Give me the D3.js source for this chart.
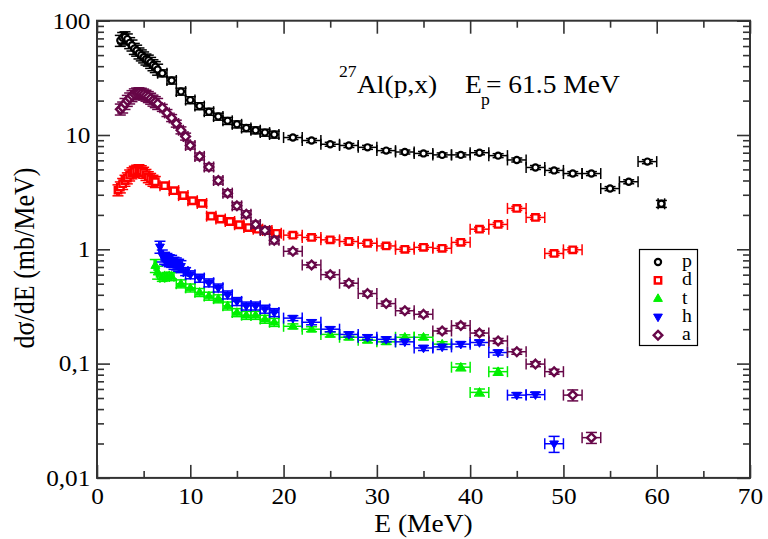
<!DOCTYPE html>
<html>
<head>
<meta charset="utf-8">
<script src="https://cdn.jsdelivr.net/npm/d3@7"></script>
<style>
  body { margin: 0; background: #fff; }
  svg { display: block; }
  text { font-family: "Liberation Serif", "Times New Roman", serif; fill: #000; }
</style>
</head>
<body>
<div id="chart"></div>
<script>
// proton
var pE = [2.5,2.75,3,3.25,3.5,3.75,4,4.25,4.5,4.75,5,5.25,5.5,5.75,6,6.25,6.5,
          7,8,9,10,11,12,13,14,15,16,17,18,19,
          21,23,25,27,29,31,33,35,37,39,41,43,45,47,49,51,53,55,57,59,60.5];
var pV = [67,71,72,69,64,61,57,55,52,50,48,46,45,43,41,39.5,37.5,
          34.7,30,24,20.2,17.9,16,14.5,13.3,12.4,11.5,11,10.5,10.1,
          9.5,8.95,8.3,8.1,7.8,7.3,7.1,6.9,6.7,6.7,7.0,6.6,6.05,5.2,4.9,4.6,4.6,3.4,3.9,5.85,2.5];
// deuteron
var dE = [2.25,2.5,2.75,3,3.25,3.5,3.75,4,4.25,4.5,4.75,5,5.25,5.5,5.75,6,6.25,
          7.25,8.25,9.25,10.25,11.25,12.25,13.25,14.25,15.25,16.25,17.25,18.25,19.25,
          21,23,25,27,29,31,33,35,37,39,41,43,45,47,49,51];
var dV = [3.3,3.5,3.75,4.0,4.2,4.45,4.65,4.8,4.9,4.95,4.85,4.7,4.5,4.3,4.15,4.0,3.9,
          3.6,3.26,2.95,2.66,2.52,1.95,1.84,1.75,1.64,1.55,1.50,1.46,1.38,
          1.33,1.27,1.21,1.17,1.13,1.07,1.0,1.04,1.02,1.15,1.50,1.65,2.28,1.90,0.92,0.99];
// triton
var tE = [6.25,6.5,7,7.5,8,9,10,11,12,13,14,15,16,17,18,19,
          21,23,25,27,29,31,33,35,37,39,41,43];
var tV = [0.72,0.63,0.57,0.58,0.58,0.50,0.46,0.42,0.39,0.37,0.32,0.28,0.265,0.265,0.245,0.23,
          0.212,0.20,0.18,0.17,0.16,0.155,0.17,0.17,0.148,0.093,0.056,0.085];
// helion
var hE = [6.75,7,7.25,7.5,7.75,8,8.25,8.5,8.75,9,9.5,10,11,12,13,14,15,16,17,18,19,
          21,23,25,27,29,31,33,35,37,39,41,43,45,47,49];
var hV = [1.05,0.88,0.84,0.82,0.80,0.79,0.76,0.75,0.73,0.71,0.64,0.60,0.56,0.51,0.46,0.40,0.35,0.32,0.32,0.30,0.28,
          0.25,0.23,0.20,0.18,0.17,0.163,0.155,0.137,0.14,0.148,0.153,0.125,0.053,0.0535,0.0199];
// alpha
var aE = [2.5,2.75,3,3.25,3.5,3.75,4,4.25,4.5,4.75,5,5.25,5.5,5.75,6,6.25,6.5,
          7,7.5,8,8.5,9,9.5,10,11,12,13,14,15,16,17,18,19,
          21,23,25,27,29,31,33,35,37,39,41,43,45,47,49,51,53];
var aV = [16.8,17.5,18.8,20,21,22,22.8,23.2,23.3,23.1,22.7,22.2,21.6,20.9,20.1,19.5,18.8,
          17.3,15.6,14.1,12.6,11.0,9.7,8.1,6.5,5.25,4.0,3.1,2.4,2.03,1.65,1.46,1.2,
          0.96,0.73,0.60,0.505,0.41,0.335,0.29,0.27,0.193,0.215,0.185,0.158,0.127,0.099,0.085,0.053,0.0225];

// energy bin half widths: [upper E limit, half width]
var pBins = [[6.6,0.125],[19.5,0.5],[60,1],[61,0.35]];
var dBins = [[6.3,0.125],[20,0.5],[52,1]];
var tBins = [[6.6,0.125],[8.5,0.25],[20,0.5],[50,1]];
var hBins = [[9.1,0.125],[9.6,0.25],[20,0.5],[50,1]];
var aBins = [[6.6,0.125],[9.6,0.25],[20,0.5],[54,1]];

// relative errors on the cross section: [upper E limit, relative error]
var pErr = [[6.6,0.11],[20,0.07],[60,0.04],[61,0.07]];
var dErr = [[6.3,0.11],[20,0.06],[52,0.04]];
var tErr = [[6.6,0.13],[20,0.08],[38,0.05],[50,0.07]];
var hErr = [[9.1,0.12],[20,0.08],[48,0.05],[50,0.16]];
var aErr = [[6.6,0.11],[20,0.07],[50,0.05],[54,0.11]];

var names = ["p","d","t","h","a"];
var colors = ["#000000","#ff0000","#00f000","#0000ff","#670748"];
var shapes = ["circle","square","triangle","down","diamond"];

var xTicks = [0,10,20,30,40,50,60,70];
var xMinor = [5,15,25,35,45,55,65];
var yTicks = [0.01,0.1,1,10,100];
var yTickLabels = ["0,01","0,1","1","10","100"];

var W = 768, H = 539;
var plotL = 97, plotR = 750, plotT = 20.7, plotB = 477.9;

var svg = d3.select("#chart").append("svg")
    .attr("width", W).attr("height", H);

var x = d3.scaleLinear().domain([0, 70]).range([plotL, plotR]);
var y = d3.scaleLog().domain([0.01, 100]).range([plotB, plotT]);

var yMinor = [];
yTicks.slice(0, 4).forEach(function(d) {
  for (var m = 2; m <= 9; m++) yMinor.push(d * m);
});

var axisColor = "#333";

function styleAxis(g) {
  g.select(".domain").remove();
  g.selectAll(".tick line").attr("stroke", axisColor).attr("stroke-width", 1.6);
  g.selectAll(".tick text")
    .style("font-family", "'Liberation Serif', 'Times New Roman', serif")
    .style("font-size", "23px").attr("fill", "#000");
}

// bottom
svg.append("g").attr("transform", "translate(0," + plotB + ")")
  .call(d3.axisBottom(x).tickValues(xTicks).tickSize(-13).tickPadding(10).tickFormat(d3.format("d")))
  .call(styleAxis)
  .selectAll(".tick text").attr("transform", "scale(1.1,1)");
svg.append("g").attr("transform", "translate(0," + plotB + ")")
  .call(d3.axisBottom(x).tickValues(xMinor).tickSize(-7).tickFormat(""))
  .call(styleAxis);
// top
svg.append("g").attr("transform", "translate(0," + plotT + ")")
  .call(d3.axisTop(x).tickValues(xTicks).tickSize(-13).tickFormat(""))
  .call(styleAxis);
svg.append("g").attr("transform", "translate(0," + plotT + ")")
  .call(d3.axisTop(x).tickValues(xMinor).tickSize(-7).tickFormat(""))
  .call(styleAxis);
// left
svg.append("g").attr("transform", "translate(" + plotL + ",0)")
  .call(d3.axisLeft(y).tickValues(yTicks).tickSize(-13).tickPadding(6)
        .tickFormat(function(d, i) { return yTickLabels[i]; }))
  .call(styleAxis)
  .selectAll(".tick text").attr("transform", "scale(1.1,1)");
svg.append("g").attr("transform", "translate(" + plotL + ",0)")
  .call(d3.axisLeft(y).tickValues(yMinor).tickSize(-7).tickFormat(""))
  .call(styleAxis);
// right
svg.append("g").attr("transform", "translate(" + plotR + ",0)")
  .call(d3.axisRight(y).tickValues(yTicks).tickSize(-13).tickFormat(""))
  .call(styleAxis);
svg.append("g").attr("transform", "translate(" + plotR + ",0)")
  .call(d3.axisRight(y).tickValues(yMinor).tickSize(-7).tickFormat(""))
  .call(styleAxis);

// frame
svg.append("rect")
  .attr("x", plotL).attr("y", plotT)
  .attr("width", plotR - plotL).attr("height", plotB - plotT)
  .attr("fill", "none").attr("stroke", axisColor).attr("stroke-width", 2);

// data
var allE = [pE, dE, tE, hE, aE];
var allV = [pV, dV, tV, hV, aV];
var allBins = [pBins, dBins, tBins, hBins, aBins];
var allErr = [pErr, dErr, tErr, hErr, aErr];

function lookup(table, e) {
  for (var i = 0; i < table.length; i++) if (e < table[i][0]) return table[i][1];
  return table[table.length - 1][1];
}

function markerPath(shape) {
  if (shape === "triangle") return "M0,-4.8L4.4,2.8L-4.4,2.8Z";
  if (shape === "down") return "M0,4.8L4.4,-2.8L-4.4,-2.8Z";
  if (shape === "diamond") return "M0,-4.3L4.3,0L0,4.3L-4.3,0Z";
  if (shape === "square") return "M-3.2,-3.2H3.2V3.2H-3.2Z";
  return null;
}

function drawMarker(g, shape, color) {
  if (shape === "circle") {
    g.append("circle").attr("r", 3.1).attr("fill", "#fff")
      .attr("stroke", color).attr("stroke-width", 2.2);
  } else if (shape === "triangle" || shape === "down") {
    g.append("path").attr("d", markerPath(shape)).attr("fill", color)
      .attr("stroke", color).attr("stroke-width", 1);
  } else {
    g.append("path").attr("d", markerPath(shape)).attr("fill", "#fff")
      .attr("stroke", color).attr("stroke-width", 2.4);
  }
}

var cap = 5.5;
names.forEach(function(name, s) {
  var color = colors[s];
  var data = allE[s].map(function(e, i) { return {e: e, v: allV[s][i]}; });
  var g = svg.append("g").attr("class", "series-" + name);

  var eb = g.selectAll("g.err").data(data).enter().append("g").attr("class", "err")
    .attr("stroke", color).attr("stroke-width", 1.5).attr("fill", "none");
  eb.each(function(d) {
    var sel = d3.select(this);
    var hw = lookup(allBins[s], d.e);
    var r = lookup(allErr[s], d.e);
    var x0 = x(d.e - hw), x1 = x(d.e + hw), cx = x(d.e), cy = y(d.v);
    var y0 = y(d.v * (1 + r)), y1 = y(d.v * (1 - r));
    sel.append("line").attr("x1", x0).attr("x2", x1).attr("y1", cy).attr("y2", cy);
    sel.append("line").attr("x1", x0).attr("x2", x0).attr("y1", cy - cap).attr("y2", cy + cap);
    sel.append("line").attr("x1", x1).attr("x2", x1).attr("y1", cy - cap).attr("y2", cy + cap);
    sel.append("line").attr("x1", cx).attr("x2", cx).attr("y1", y0).attr("y2", y1);
    sel.append("line").attr("x1", cx - cap).attr("x2", cx + cap).attr("y1", y0).attr("y2", y0);
    sel.append("line").attr("x1", cx - cap).attr("x2", cx + cap).attr("y1", y1).attr("y2", y1);
  });

  g.selectAll("g.mk").data(data).enter().append("g").attr("class", "mk")
    .attr("transform", function(d) { return "translate(" + x(d.e) + "," + y(d.v) + ")"; })
    .each(function() { drawMarker(d3.select(this), shapes[s], color); });
});

// legend
var lg = svg.append("g");
lg.append("rect").attr("x", 639.5).attr("y", 249.5).attr("width", 58).attr("height", 96)
  .attr("fill", "#fff").attr("stroke", "#000").attr("stroke-width", 1.2);
names.forEach(function(name, i) {
  var ly = 262 + i * 18.3;
  drawMarker(lg.append("g").attr("transform", "translate(658," + ly + ")"), shapes[i], colors[i]);
  lg.append("text").attr("transform", "translate(682," + (ly + 5) + ") scale(1.1,1)")
    .style("font-size", "18px").text(name);
});

// texts
function stretchText(tx, ty, size, str) {
  return svg.append("text")
    .attr("transform", "translate(" + tx + "," + ty + ") scale(1.1,1)")
    .style("font-size", size + "px").text(str);
}
stretchText(339, 77, 16, "27");
stretchText(357, 93, 25, "Al(p,x)");
stretchText(465, 93, 25, "E");
stretchText(481, 105, 16, "p");
stretchText(486, 93, 25, "= 61.5 MeV");

svg.append("text")
  .attr("transform", "translate(" + (plotL + plotR) / 2 + ",524) scale(1.1,1)")
  .attr("text-anchor", "middle").attr("dy", "0.3em")
  .style("font-size", "25px").text("E (MeV)");

svg.append("text")
  .attr("transform", "translate(34,258) scale(1.1,1) rotate(-90)")
  .attr("text-anchor", "middle")
  .style("font-size", "26px").text("dσ/dE (mb/MeV)");
</script>
</body>
</html>
